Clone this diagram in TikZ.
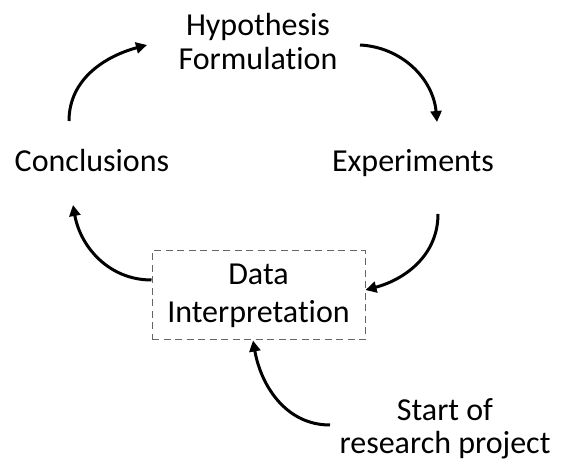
\documentclass[tikz,border=0pt]{standalone}
\usepackage{fontspec}
\setmainfont{Carlito}[Ligatures={NoCommon,TeX}]
\usetikzlibrary{arrows.meta}
\begin{document}
\begin{tikzpicture}[x=1pt,y=-1pt,
  lbl/.style={align=center,inner sep=0pt,text=black},
  flow/.style={line width=3pt,-{Triangle[length=11pt,width=11pt]}},
  dbox/.style={draw=black!60,line width=1pt,dash pattern=on 7pt off 4.5pt,minimum width=213pt,minimum height=89pt,inner sep=0pt}]
\useasboundingbox (0,0) rectangle (566,468);
\node[lbl,font=\fontsize{32}{34}\selectfont] (hyp) at (258,42) {Hypothesis\\Formulation};
\node[lbl,font=\fontsize{32}{36}\selectfont,anchor=base] (conc) at (92,172) {Conclusions};
\node[lbl,font=\fontsize{32}{36}\selectfont,anchor=base] (exp) at (413,172) {Experiments};
\node[dbox] (box) at (258.5,295.5) {};
\node[lbl,font=\fontsize{32}{38}\selectfont] (data) at (258.5,296) {Data\\Interpretation};
\node[lbl,font=\fontsize{32}{33}\selectfont] (start) at (445,429) {Start of\\research project};
\coordinate (c1) at (69,121);
\coordinate (h1) at (147,45);
\coordinate (h2) at (360,45);
\coordinate (e1) at (437,122);
\coordinate (e2) at (438,214);
\coordinate (b1) at (box.west|-0,280);
\coordinate (c2) at (73,205);
\coordinate (s1) at (330,425);
\draw[flow] (c1) to[out=90,in=195] (h1);
\draw[flow] (h2) to[out=-3,in=95] (e1);
\draw[flow] (e2) to[out=-90,in=15] (box.east|-0,290);
\draw[flow] (b1) to[out=180,in=-80] (c2);
\draw[flow] (s1) to[out=180,in=-80] (box.south-|253,0);
\end{tikzpicture}
\end{document}
